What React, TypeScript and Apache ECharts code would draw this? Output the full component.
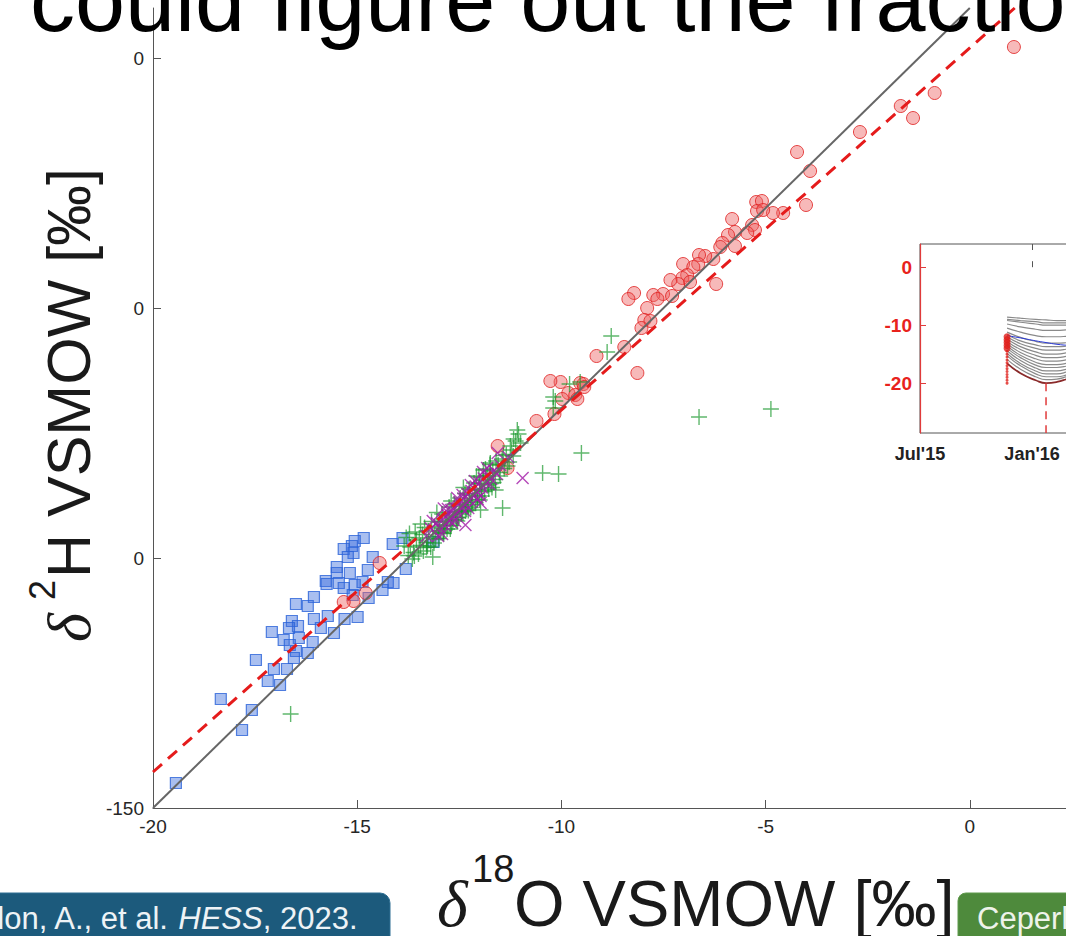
import React, { useEffect, useRef } from "react";
import * as echarts from "echarts";

// ---- main scatter data (δ18O, δ2H) ----
const redCircles: number[][] = [
  [1.08, 2.2], [-0.86, -7.0], [-1.69, -9.6], [-1.39, -12.0], [-2.69, -14.8], [-4.23, -18.8],
  [-3.91, -22.6], [-4.01, -29.4], [-4.57, -31.0], [-4.82, -31.0], [-5.23, -28.8], [-5.09, -28.6],
  [-5.21, -30.6], [-5.06, -30.4], [-5.82, -32.2], [-5.33, -33.4], [-5.26, -34.4], [-5.45, -35.0],
  [-5.75, -34.8], [-5.92, -35.4], [-6.06, -37.0], [-6.11, -37.8], [-5.75, -37.6], [-6.28, -40.2],
  [-6.48, -39.6], [-6.63, -39.4], [-7.02, -41.2], [-6.65, -41.2], [-6.77, -41.8], [-6.92, -43.4],
  [-7.04, -44.0], [-6.85, -44.8], [-7.14, -45.2], [-7.33, -44.4], [-6.21, -45.2], [-7.51, -47.2],
  [-7.75, -47.4], [-7.65, -48.2], [-7.29, -47.6], [-8.22, -47.0], [-8.36, -48.2], [-7.9, -50.0],
  [-7.97, -52.4], [-7.82, -52.6], [-8.04, -54.0], [-8.46, -57.8], [-9.14, -59.6], [-8.14, -63.0],
  [-9.54, -65.0], [-10.02, -64.8], [-10.27, -64.6], [-9.83, -67.0], [-9.66, -67.4], [-9.46, -65.2],
  [-9.44, -65.8], [-9.98, -68.2], [-9.61, -68.2], [-10.17, -71.2], [-10.61, -72.6], [-11.56, -77.6],
  [-11.32, -82.0], [-14.45, -101.0], [-14.79, -107.0], [-15.09, -108.6], [-15.33, -108.8]
];

const blueSquares: number[][] = [
  [-14.84, -96.0], [-15.06, -96.6], [-15.13, -97.6], [-15.33, -98.2], [-15.09, -99.0], [-15.23, -99.8],
  [-14.62, -99.8], [-13.89, -96.0], [-14.13, -97.2], [-13.81, -102.2], [-14.74, -102.4], [-15.18, -103.0],
  [-15.5, -101.8], [-15.5, -103.0], [-15.77, -104.6], [-15.75, -105.2], [-15.45, -105.0], [-15.06, -105.4],
  [-14.87, -104.8], [-15.33, -106.0], [-14.25, -104.8], [-14.11, -105.0], [-14.38, -106.4], [-14.72, -108.0],
  [-15.11, -107.4], [-16.06, -107.8], [-16.5, -109.2], [-16.21, -109.6], [-14.99, -111.8], [-15.31, -112.2],
  [-15.72, -111.6], [-16.06, -112.2], [-15.89, -114.0], [-15.57, -115.0], [-16.6, -112.6], [-16.45, -113.6],
  [-16.67, -114.0], [-17.09, -114.8], [-16.09, -116.8], [-16.43, -116.0], [-16.8, -116.4], [-16.65, -117.4],
  [-16.5, -118.6], [-16.21, -119.0], [-16.55, -120.0], [-17.48, -120.4], [-16.72, -122.2], [-17.04, -122.2],
  [-17.19, -124.6], [-16.89, -125.4], [-18.34, -128.2], [-17.58, -130.4], [-17.82, -134.4], [-19.44, -145.0],
  [-13.13, -96.8]
];

const greenPlus: number[][] = [
  [-4.87, -70.2], [-6.63, -71.8], [-9.51, -79.0], [-10.46, -83.0], [-10.07, -83.2], [-8.78, -55.6],
  [-8.88, -58.8], [-9.8, -65.2], [-9.54, -64.8], [-10.2, -67.8], [-10.15, -68.6], [-10.2, -70.0],
  [-11.05, -75.2], [-11.17, -76.2], [-11.0, -77.0], [-11.08, -74.4], [-11.44, -90.0], [-11.61, -86.4],
  [-11.98, -90.4], [-11.74, -81.0], [-11.91, -82.4], [-13.15, -99.8], [-16.63, -131.2],
  [-13.75, -99.5], [-13.7, -97.8], [-13.62, -98.9], [-13.55, -96.4], [-13.5, -99.2], [-13.45, -97.5],
  [-13.4, -95.3], [-13.38, -98.6], [-13.3, -96.9], [-13.25, -94.6], [-13.2, -97.8], [-13.15, -95.8],
  [-13.1, -93.7], [-13.08, -96.2], [-13.0, -96.1], [-12.98, -92.8], [-12.95, -94.9], [-12.9, -95.0],
  [-12.85, -93.4], [-12.8, -94.2], [-12.78, -91.6], [-12.72, -94.2], [-12.7, -93.5], [-12.65, -92.3],
  [-12.6, -90.8], [-12.58, -92.4], [-12.52, -91.9], [-12.5, -89.7], [-12.45, -91.2], [-12.42, -90.6],
  [-12.38, -88.5], [-12.35, -90.6], [-12.3, -89.6], [-12.25, -87.4], [-12.22, -89.9], [-12.18, -88.7],
  [-12.12, -86.3], [-12.1, -88.9], [-12.05, -87.6], [-12.0, -85.2], [-11.95, -87.6], [-11.92, -84.4],
  [-11.88, -86.7], [-11.82, -83.5], [-11.78, -86.2], [-11.72, -85.1], [-11.68, -82.6], [-11.62, -84.3],
  [-11.55, -81.4], [-11.5, -83.6], [-11.45, -80.2], [-11.4, -82.1], [-11.35, -79.3], [-11.28, -80.8],
  [-11.22, -78.4], [-13.6, -99.6], [-13.3, -97.9], [-12.88, -95.1], [-12.55, -92.6], [-12.28, -90.5],
  [-12.0, -88.4], [-11.7, -85.9], [-13.8, -95.9], [-13.45, -93.2], [-13.05, -90.9], [-12.7, -88.6],
  [-12.4, -85.9], [-12.08, -83.6],
  [-13.85, -97.6], [-13.72, -95.1], [-13.65, -100.2], [-13.58, -94.8], [-13.48, -96.0], [-13.35, -93.9],
  [-13.28, -97.6], [-13.18, -92.7], [-13.12, -97.0], [-13.02, -94.0], [-12.92, -91.2], [-12.88, -94.6],
  [-12.82, -92.6], [-12.75, -89.8], [-12.68, -93.0], [-12.62, -89.2], [-12.56, -91.9], [-12.48, -88.0],
  [-12.44, -90.9], [-12.36, -87.1], [-12.32, -90.2], [-12.26, -86.2], [-12.2, -89.3], [-12.14, -85.0],
  [-12.06, -88.3], [-12.02, -83.8], [-11.96, -86.5], [-11.86, -82.2], [-11.8, -85.4], [-11.75, -81.3],
  [-11.66, -84.9], [-11.6, -80.6], [-11.52, -82.9], [-11.42, -79.5], [-11.32, -81.6], [-11.25, -77.6],
  [-11.18, -79.6], [-11.12, -76.6]
];

const purpleX: number[][] = [
  [-13.3, -95.6], [-13.2, -94.1], [-13.1, -94.8], [-13.05, -93.0], [-12.98, -94.0], [-12.9, -92.4],
  [-12.85, -93.5], [-12.8, -91.3], [-12.75, -92.5], [-12.7, -90.4], [-12.65, -91.7], [-12.6, -90.0],
  [-12.55, -91.0], [-12.5, -88.9], [-12.45, -89.9], [-12.4, -88.1], [-12.35, -89.3], [-12.3, -87.2],
  [-12.25, -88.4], [-12.2, -86.6], [-12.15, -87.6], [-12.1, -85.7], [-12.05, -86.8], [-12.0, -84.9],
  [-11.95, -85.9], [-11.9, -84.1], [-11.85, -85.0], [-11.8, -83.3], [-11.72, -84.2], [-11.65, -82.5],
  [-11.58, -83.2], [-11.5, -81.4], [-12.92, -95.2], [-12.6, -92.6], [-12.28, -90.0], [-11.98, -87.6],
  [-12.88, -90.1], [-12.55, -88.0], [-12.22, -85.4], [-11.92, -82.8],
  [-13.15, -92.6], [-12.78, -90.2], [-12.42, -87.4], [-12.12, -84.6], [-11.82, -82.0],
  [-13.02, -95.6], [-12.68, -92.9], [-12.36, -90.6], [-12.05, -88.2], [-11.75, -85.3],
  [-10.95, -84.0], [-12.35, -93.4], [-11.98, -89.0], [-11.56, -79.0], [-11.3, -79.8]
];

// meteoric water lines: GMWL (solid gray) and local line (dashed red)
const gmwlX = [-20, 0];
const gmwlY = [-150, 10];
const lmwlX = [-20, 1.1];
const lmwlY = [-142.8, 10];

const xTickLabels = [-20, -15, -10, -5, 0];
const yTicks = [-150, -100, -50, 0];
const yTickText = ["-150", "0", "0", "0"];

// ---- inset (time series) ----
const insetDays = [143, 165, 190, 207, 225, 245, 280];
const insetGrayLines: number[][] = [
  [-8.6, -8.8, -9.0, -9.1, -9.2, -9.2, -9.3],
  [-9.0, -9.2, -9.4, -9.6, -9.6, -9.6, -9.7],
  [-9.2, -9.5, -9.8, -10.0, -10.0, -10.0, -10.1],
  [-9.8, -10.3, -10.7, -10.9, -10.9, -10.8, -10.8],
  [-10.5, -11.2, -11.8, -12.0, -12.0, -11.9, -11.8],
  [-11.2, -12.1, -12.8, -13.1, -13.1, -13.0, -12.8],
  [-11.6, -12.7, -13.4, -13.7, -13.7, -13.6, -13.4],
  [-12.0, -13.2, -14.0, -14.3, -14.3, -14.1, -13.9],
  [-12.4, -13.7, -14.6, -15.0, -15.0, -14.7, -14.5],
  [-12.8, -14.2, -15.2, -15.6, -15.6, -15.3, -15.0],
  [-13.2, -14.7, -15.8, -16.2, -16.2, -15.9, -15.6],
  [-13.6, -15.2, -16.4, -16.8, -16.8, -16.5, -16.1],
  [-14.0, -15.6, -16.9, -17.3, -17.3, -17.0, -16.6],
  [-14.4, -16.1, -17.4, -17.9, -17.9, -17.5, -17.1],
  [-14.9, -16.6, -17.9, -18.4, -18.4, -18.0, -17.6],
  [-15.3, -17.0, -18.4, -18.9, -18.9, -18.5, -18.0],
  [-15.9, -17.6, -18.9, -19.4, -19.3, -18.8, -18.2]
];
const insetBottom = [-16.6, -18.3, -19.5, -20.0, -19.8, -19.2, -18.4];
const insetBlue = [-11.8, -12.2, -12.7, -13.0, -13.3, -13.5, -13.8];
const insetRedDay = 143;
const insetRedBig = [-12.0, -12.5, -13.0, -13.5, -14.0];
const insetRedSmall = [-14.5, -15.0, -15.5, -16.0, -16.5, -17.0, -17.5, -18.0, -18.5, -19.0, -19.5, -20.0];
const insetMarkDay = 207;
const insetTickLabels: Record<number, string> = { 0: "Jul'15", 184: "Jan'16" };
const insetYTicks = [0, -10, -20];

const titleText = "could figure out the fraction";
const citeText = "don, A., et al. ";
const citeJournal = "HESS";
const citeYear = ", 2023.";
const greenText = "Ceperley";

const SANS = "'Liberation Sans', Arial, Helvetica, sans-serif";
const SERIF = "'Liberation Serif', 'Times New Roman', serif";

export default function App() {
  const ref = useRef<HTMLDivElement>(null);
  useEffect(() => {
    if (!ref.current) return;
    const chart = echarts.init(ref.current, undefined, { renderer: "svg" });
    const axisColor = "#555";
    const option: any = {
      animation: false,
      backgroundColor: "#fff",
      grid: [
        { left: 153, top: 8, width: 1021, height: 800, outerBoundsMode: "none", containLabel: false },
        {
          left: 920, top: 244, width: 400, height: 189, show: true, outerBoundsMode: "none", containLabel: false,
          backgroundColor: "#fff", borderColor: "#555", borderWidth: 1, z: 10
        }
      ],
      xAxis: [
        {
          type: "value", gridIndex: 0, min: -20, max: 5, interval: 5,
          axisLine: { show: true, onZero: false, lineStyle: { color: axisColor, width: 1 } },
          axisTick: { show: true, inside: true, length: 8, lineStyle: { color: axisColor } },
          axisLabel: {
            show: true, customValues: xTickLabels, color: "#262626", fontSize: 19, fontFamily: SANS, margin: 9
          },
          splitLine: { show: false }
        },
        {
          type: "value", gridIndex: 1, min: 0, max: 657, position: "bottom", z: 12,
          axisLine: { show: false },
          axisTick: { show: true, inside: true, length: 6, customValues: [184], lineStyle: { color: "#555" } },
          axisLabel: {
            show: true, customValues: [0, 184], showMinLabel: true, color: "#222", fontSize: 18, fontWeight: "bold",
            fontFamily: SANS, margin: 12, formatter: (v: number) => insetTickLabels[v] ?? ""
          },
          splitLine: { show: false }
        },
        {
          type: "value", gridIndex: 1, min: 0, max: 657, position: "top", z: 12,
          axisLine: { show: false },
          axisTick: { show: true, inside: true, length: 6, customValues: [184], lineStyle: { color: "#555" } },
          axisLabel: { show: false },
          splitLine: { show: false }
        }
      ],
      yAxis: [
        {
          type: "value", gridIndex: 0, min: -150, max: 10,
          axisLine: { show: true, onZero: false, lineStyle: { color: axisColor, width: 1 } },
          axisTick: { show: true, inside: true, length: 8, customValues: yTicks, lineStyle: { color: axisColor } },
          axisLabel: {
            show: true, customValues: yTicks, color: "#262626", fontSize: 19, fontFamily: SANS, margin: 9,
            formatter: (v: number) => yTickText[yTicks.indexOf(v)] ?? ""
          },
          splitLine: { show: false }
        },
        {
          type: "value", gridIndex: 1, min: -28.6, max: 4, z: 12,
          axisLine: { show: true, onZero: false, lineStyle: { color: "#e03a3a", width: 1.2 } },
          axisTick: { show: true, inside: true, length: 6, customValues: insetYTicks, lineStyle: { color: "#e03a3a" } },
          axisLabel: {
            show: true, customValues: insetYTicks, color: "#e8221c", fontSize: 19, fontWeight: "bold",
            fontFamily: SANS, margin: 8
          },
          splitLine: { show: false }
        }
      ],
      series: [
        {
          type: "scatter", xAxisIndex: 0, yAxisIndex: 0, data: blueSquares, symbol: "rect", symbolSize: 11,
          itemStyle: { color: "rgba(60,110,220,0.55)", borderColor: "#2a63d8", borderWidth: 1.2 }
        },
        {
          type: "scatter", xAxisIndex: 0, yAxisIndex: 0, data: redCircles, symbol: "circle", symbolSize: 13,
          itemStyle: { color: "rgba(236,96,96,0.55)", borderColor: "#e01e1e", borderWidth: 1 }
        },
        {
          type: "scatter", xAxisIndex: 0, yAxisIndex: 0, data: greenPlus, symbol: "path://M5 0L5 10M0 5L10 5",
          symbolSize: 16,
          itemStyle: { color: "rgba(0,0,0,0)", borderColor: "rgba(20,150,40,0.85)", borderWidth: 1.4 }
        },
        {
          type: "scatter", xAxisIndex: 0, yAxisIndex: 0, data: purpleX, symbol: "path://M0 0L10 10M10 0L0 10",
          symbolSize: 12,
          itemStyle: { color: "rgba(0,0,0,0)", borderColor: "#a21ca8", borderWidth: 1.4 }
        },
        {
          type: "line", xAxisIndex: 0, yAxisIndex: 0, showSymbol: false, silent: true,
          data: gmwlX.map((x, i) => [x, gmwlY[i]]),
          lineStyle: { color: "#666", width: 2 }
        },
        {
          type: "line", xAxisIndex: 0, yAxisIndex: 0, showSymbol: false, silent: true,
          data: lmwlX.map((x, i) => [x, lmwlY[i]]),
          lineStyle: { color: "#e51b1b", width: 3, type: [12, 8] }
        },
        ...insetGrayLines.map((vals) => ({
          type: "line", xAxisIndex: 1, yAxisIndex: 1, showSymbol: false, silent: true, smooth: true, z: 11,
          data: insetDays.map((d, i) => [d, vals[i]]),
          lineStyle: { color: "#8a8a8a", width: 1.2 }
        })),
        {
          type: "line", xAxisIndex: 1, yAxisIndex: 1, showSymbol: false, silent: true, smooth: true, z: 11,
          data: insetDays.map((d, i) => [d, insetBottom[i]]),
          lineStyle: { color: "#8a2a2a", width: 1.8 }
        },
        {
          type: "line", xAxisIndex: 1, yAxisIndex: 1, showSymbol: false, silent: true, smooth: true, z: 11,
          data: insetDays.map((d, i) => [d, insetBlue[i]]),
          lineStyle: { color: "#2a3ad8", width: 1 }
        },
        {
          type: "line", xAxisIndex: 1, yAxisIndex: 1, showSymbol: false, silent: true, z: 11,
          data: [[insetMarkDay, insetBottom[3]], [insetMarkDay, -28.6]],
          lineStyle: { color: "#e03a3a", width: 1.5, type: [8, 6] }
        },
        {
          type: "scatter", xAxisIndex: 1, yAxisIndex: 1, z: 11,
          data: insetRedSmall.map((v) => [insetRedDay, v]), symbolSize: 3,
          itemStyle: { color: "#e0201c" }
        },
        {
          type: "scatter", xAxisIndex: 1, yAxisIndex: 1, z: 11,
          data: insetRedBig.map((v) => [insetRedDay, v]), symbolSize: 7,
          itemStyle: { color: "#e0201c" }
        }
      ],
      graphic: [
        {
          type: "text", x: 30, y: 0, z: 100,
          style: { text: titleText, font: `90px ${SANS}`, fill: "#000", align: "left", verticalAlign: "middle" }
        },
        // x-axis title
        {
          type: "text", x: 437, y: 903, z: 100,
          style: { text: "δ", font: `italic 66px ${SERIF}`, fill: "#1a1a1a", align: "left", verticalAlign: "middle" }
        },
        {
          type: "text", x: 472, y: 869, z: 100,
          style: { text: "18", font: `38px ${SANS}`, fill: "#1a1a1a", align: "left", verticalAlign: "middle" }
        },
        {
          type: "text", x: 514, y: 903, z: 100,
          style: { text: "O VSMOW [‰]", font: `65px ${SANS}`, fill: "#1a1a1a", align: "left", verticalAlign: "middle" }
        },
        // y-axis title (rotated)
        {
          type: "group", x: 0, y: 0, rotation: Math.PI / 2, z: 100,
          children: [
            {
              type: "text", x: -642, y: 69,
              style: { text: "δ", font: `italic 62px ${SERIF}`, fill: "#1a1a1a", align: "left", verticalAlign: "middle" }
            },
            {
              type: "text", x: -600, y: 42,
              style: { text: "2", font: `36px ${SANS}`, fill: "#1a1a1a", align: "left", verticalAlign: "middle" }
            },
            {
              type: "text", x: -578, y: 69,
              style: { text: "H VSMOW [‰]", font: `61px ${SANS}`, fill: "#1a1a1a", align: "left", verticalAlign: "middle" }
            }
          ]
        },
        // citation box
        {
          type: "rect", z: 100,
          shape: { x: -20, y: 893, width: 410, height: 70, r: 10 },
          style: { fill: "#1c5a7c", stroke: "#2f6f93", lineWidth: 1 }
        },
        {
          type: "text", x: -13, y: 918, z: 101,
          style: {
            text: `{n|${citeText}}{i|${citeJournal}}{n|${citeYear}}`, fill: "#eef3f6",
            align: "left", verticalAlign: "middle",
            rich: {
              n: { fontSize: 31, fontFamily: SANS, fill: "#eef3f6", color: "#eef3f6" },
              i: { fontSize: 31, fontFamily: SANS, fontStyle: "italic", fill: "#eef3f6", color: "#eef3f6" }
            }
          }
        },
        {
          type: "rect", z: 100,
          shape: { x: 958, y: 893, width: 200, height: 70, r: 8 },
          style: { fill: "#4e8a3c", stroke: "#5f9a4c", lineWidth: 1 }
        },
        {
          type: "text", x: 977, y: 918, z: 101,
          style: { text: greenText, font: `31px ${SANS}`, fill: "#eef3ea", align: "left", verticalAlign: "middle" }
        }
      ]
    };
    chart.setOption(option);
    return () => chart.dispose();
  }, []);
  return (
    <div
      ref={ref}
      style={{ position: "fixed", left: 0, top: 0, width: 1066, height: 936, background: "#fff" }}
    />
  );
}
